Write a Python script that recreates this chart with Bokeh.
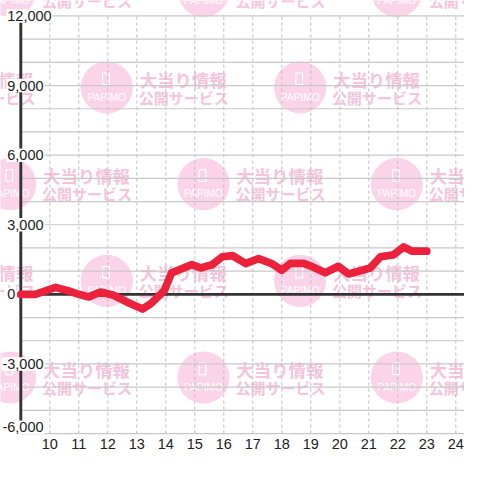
from bokeh.plotting import figure
from bokeh.models import Range1d, FixedTicker, ColumnDataSource
from bokeh.core.properties import value
from bokeh.embed import file_html
from bokeh.resources import INLINE

# ---------------- data ----------------
hours = [9.0, 9.5, 10.2, 10.6, 11.0, 11.35, 11.75, 12.2, 12.75, 13.2, 13.5, 13.95,
         14.2, 14.5, 14.9, 15.2, 15.6, 15.95, 16.3, 16.75, 17.2, 17.65, 18.0, 18.3,
         18.75, 19.0, 19.5, 19.95, 20.3, 20.65, 21.05, 21.4, 21.85, 22.2, 22.5, 23.0]
balance = [0, 0, 300, 170, 0, -110, 100, -40, -380, -630, -380, 170,
           930, 1080, 1280, 1140, 1280, 1620, 1670, 1330, 1540, 1330, 1040, 1340,
           1340, 1220, 930, 1210, 880, 1000, 1140, 1620, 1700, 2040, 1860, 1860]
x_ticks = [10, 11, 12, 13, 14, 15, 16, 17, 18, 19, 20, 21, 22, 23, 24]
y_ticks = [-6000, -3000, 0, 3000, 6000, 9000, 12000]
y_tick_labels = ["-6,000", "-3,000", "0", "3,000", "6,000", "9,000", "12,000"]
y_grid_step = 1000
watermark_title = "大当り情報"
watermark_sub = "公開サービス"
watermark_logo = "PAPIMO"

# ---------------- layout constants (design = 480 px, page = 464 px) ----------------
W = H = 464
S = W / 480.0
PX_PER_HOUR = 30.0
PX_PER_UNIT = 0.024
AXIS_X = 9.0
FRAME_H = 450
X_LO = AXIS_X - 21 / PX_PER_HOUR
X_HI = X_LO + 480 / PX_PER_HOUR
Y_HI = 304 / PX_PER_UNIT
Y_LO = Y_HI - FRAME_H / PX_PER_UNIT
Y_MIN, Y_MAX = y_ticks[0], y_ticks[-1]
LABEL_PX = 15


def dx(px):
    return X_LO + px / PX_PER_HOUR


def dy(py):
    return Y_HI - py / PX_PER_UNIT


def text_w(s, size):
    em = {"-": 0.333, ",": 0.278}
    return sum(em.get(ch, 0.556) for ch in s) * size


p = figure(width=W, height=H, output_backend="svg", toolbar_location=None,
           x_range=Range1d(X_LO, X_HI), y_range=Range1d(Y_LO, Y_HI),
           min_border_left=0, min_border_right=0, min_border_top=0,
           min_border_bottom=int(round((480 - FRAME_H) * S)))
p.outline_line_color = None
p.background_fill_color = "white"
p.border_fill_color = "white"
p.xgrid.visible = False
p.ygrid.visible = False
p.yaxis.visible = False

xa = p.xaxis[0]
xa.ticker = FixedTicker(ticks=x_ticks)
xa.axis_line_color = None
xa.major_tick_line_color = None
xa.minor_tick_line_color = None
xa.major_tick_out = 0
xa.major_tick_in = 0
xa.major_label_standoff = 3
xa.major_label_text_font = "Liberation Sans"
xa.major_label_text_font_size = f"{LABEL_PX * S:.1f}px"
xa.major_label_text_color = "#222222"

# ---------------- watermark ----------------
cx_list, cy_list = [], []
for r in range(6):
    cy = -10 + 100 * r
    cx0 = 10 if r % 2 == 0 else 110
    for k in range(-1, 3):
        cx_list.append(cx0 + 200 * k)
        cy_list.append(cy)


def visible(x0, x1, y0, y1):
    return x1 > 0 and x0 < 480 and y1 > 0 and y0 < FRAME_H


circ_pts = [(c, d) for c, d in zip(cx_list, cy_list) if visible(c - 27, c + 27, d - 27, d + 27)]
logo_pts = [(c, d) for c, d in zip(cx_list, cy_list) if visible(c - 20, c + 20, d + 4, d + 16)]
t1_pts = [(c, d) for c, d in zip(cx_list, cy_list) if visible(c + 34, c + 125, d - 18, d + 1)]
t2_pts = [(c, d) for c, d in zip(cx_list, cy_list) if visible(c + 33, c + 125, d + 2, d + 18)]

wm_circle = p.scatter(x=[dx(c) for c, d in circ_pts], y=[dy(d) for c, d in circ_pts],
                      size=54 * S, marker="circle", fill_color="#fcd4e9", line_color=None)
wm_circle.level = "image"

wm_icon = p.rect(x=[dx(c - 1) for c, d in circ_pts], y=[dy(d - 9) for c, d in circ_pts],
                 width=7 * S, height=12 * S, width_units="screen", height_units="screen",
                 fill_color=None, line_color="white", line_width=1.2)
wm_icon.level = "image"

wm_logo = p.text(x=[dx(c) for c, d in logo_pts], y=[dy(d + 10) for c, d in logo_pts],
                 text=[watermark_logo] * len(logo_pts),
                 text_font=value("Liberation Sans"),
                 text_font_size=f"{10.5 * S:.1f}px", text_color="white",
                 text_align="center", text_baseline="middle")
wm_logo.level = "image"

wm_t1 = p.text(x=[dx(c + 34) for c, d in t1_pts], y=[dy(d - 8.5) for c, d in t1_pts],
               text=[watermark_title] * len(t1_pts),
               text_font=value("Noto Sans CJK JP"), text_font_style="bold",
               text_font_size=f"{18 * S:.1f}px", text_color="#f5c3dc",
               text_align="left", text_baseline="middle")
wm_t1.level = "image"

wm_t2 = p.text(x=[dx(c + 33) for c, d in t2_pts], y=[dy(d + 10) for c, d in t2_pts],
               text=[watermark_sub] * len(t2_pts),
               text_font=value("Noto Sans CJK JP"), text_font_style="bold",
               text_font_size=f"{15.5 * S:.1f}px", text_color="#f5c3dc",
               text_align="left", text_baseline="middle")
wm_t2.level = "image"

# ---------------- grid ----------------
grid_vals = list(range(Y_MIN, Y_MAX + 1, y_grid_step))
hg = p.segment(x0=[AXIS_X] * len(grid_vals), y0=grid_vals,
               x1=[X_HI] * len(grid_vals), y1=grid_vals,
               line_color="#c8c8c8", line_width=1.2)
hg.level = "underlay"

vg = p.segment(x0=x_ticks, y0=[Y_MIN] * len(x_ticks),
               x1=x_ticks, y1=[Y_MAX] * len(x_ticks),
               line_color="#bdbdbd", line_width=1, line_dash="3 3")
vg.level = "underlay"

zero = p.segment(x0=[AXIS_X], y0=[0], x1=[X_HI], y1=[0],
                 line_color="#333333", line_width=3 * S)
zero.level = "underlay"

yline = p.segment(x0=[AXIS_X], y0=[Y_MIN], x1=[AXIS_X], y1=[Y_MAX],
                  line_color="#333333", line_width=3 * S)
yline.level = "underlay"

# ---------------- series ----------------
p.line(hours, balance, line_color="#ec213b", line_width=8 * S,
       line_join="round", line_cap="round")

# ---------------- y tick labels (drawn over the axis line, on white boxes) ----------------
lab_x, lab_y, box_x, box_w = [], [], [], []
for t, lbl in zip(y_ticks, y_tick_labels):
    left_px = 2 if lbl.startswith("-") else 7
    w = text_w(lbl, LABEL_PX)
    shift_px = 6.5 if t == Y_MIN else 0
    lab_x.append(dx(left_px))
    lab_y.append(t + shift_px / PX_PER_UNIT)
    box_x.append(dx(left_px + w / 2))
    box_w.append((w + 2) * S)

ysrc = ColumnDataSource(dict(x=lab_x, y=lab_y, text=y_tick_labels, bx=box_x, bw=box_w))
ybox = p.rect(x="bx", y="y", width="bw", height=14 * S, width_units="screen",
              height_units="screen", source=ysrc, fill_color="white", line_color=None)
ybox.level = "annotation"
ylab = p.text(x="x", y="y", text="text", source=ysrc,
              text_font=value("Liberation Sans"), text_font_size=f"{LABEL_PX * S:.1f}px",
              text_color="#222222", text_align="left", text_baseline="middle")
ylab.level = "annotation"

open("out.html", "w").write(file_html(p, INLINE))
